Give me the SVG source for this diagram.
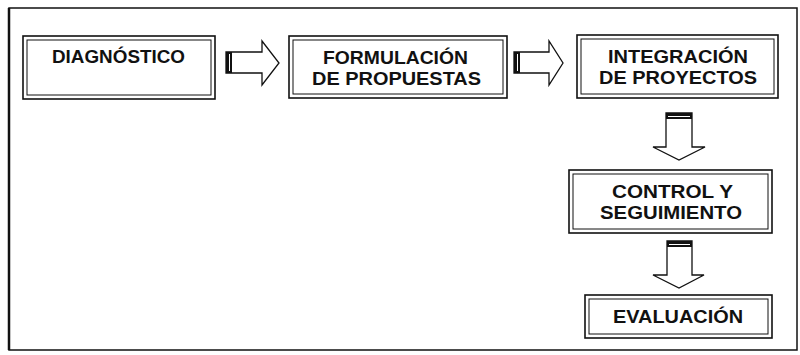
<svg xmlns="http://www.w3.org/2000/svg" width="800" height="355" viewBox="0 0 800 355">
  <style>
    .outer { fill: #ffffff; stroke: #111; stroke-width: 1.6; }
    .inner { fill: none; stroke: #111; stroke-width: 1; }
    .lbl { font-family: "Liberation Sans", Arial, sans-serif; font-weight: bold; font-size: 17.5px; fill: #111; }
    .arrow { fill: #ffffff; stroke: #111; stroke-width: 1.3; stroke-linejoin: miter; }
    .band { fill: #111; }
    .bandline { stroke: #fff; stroke-width: 1; }
    .frame { fill: none; stroke: #111; stroke-width: 1.5; }
  </style>
  <rect width="800" height="355" fill="#ffffff"/>
  <rect class="frame" x="9" y="8" width="788" height="342"/>
  <line x1="9" y1="8" x2="9" y2="350" stroke="#111" stroke-width="2.5"/>

  <g id="connectors">
    <g id="arrow-1">
      <polygon class="arrow" points="226,52 262,52 262,41 279,63 262,85 262,73 226,73"/>
      <rect class="band" x="226" y="52" width="6" height="21"/>
      <line class="bandline" x1="229.5" y1="54" x2="229.5" y2="71"/>
    </g>
    <g id="arrow-2">
      <polygon class="arrow" points="514,52 549,52 549,41 563,63 549,85 549,73 514,73"/>
      <rect class="band" x="514" y="52" width="6" height="21"/>
      <line class="bandline" x1="517.5" y1="54" x2="517.5" y2="71"/>
    </g>
    <g id="arrow-3">
      <polygon class="arrow" points="666,113 692,113 692,147 705,147 679,160 653,147 666,147"/>
      <rect class="band" x="666" y="113" width="26" height="6"/>
      <line class="bandline" x1="668" y1="116.5" x2="690" y2="116.5"/>
    </g>
    <g id="arrow-4">
      <polygon class="arrow" points="667,241 692,241 692,275 704,275 679,288 653,275 667,275"/>
      <rect class="band" x="667" y="241" width="25" height="6"/>
      <line class="bandline" x1="669" y1="244.5" x2="690" y2="244.5"/>
    </g>
  </g>

  <g id="node-diagnostico">
    <rect class="outer" x="23" y="36" width="192" height="63"/>
    <rect class="inner" x="27" y="40" width="184" height="55"/>
    <text class="lbl" x="52" y="63" textLength="133" lengthAdjust="spacingAndGlyphs">DIAGNÓSTICO</text>
  </g>

  <g id="node-formulacion">
    <rect class="outer" x="289" y="36" width="218" height="62"/>
    <rect class="inner" x="293" y="40" width="210" height="54"/>
    <text class="lbl" x="323" y="64" textLength="145" lengthAdjust="spacingAndGlyphs">FORMULACIÓN</text>
    <text class="lbl" x="312" y="85" textLength="169" lengthAdjust="spacingAndGlyphs">DE PROPUESTAS</text>
  </g>

  <g id="node-integracion">
    <rect class="outer" x="577" y="35" width="201" height="63"/>
    <rect class="inner" x="581" y="39" width="193" height="55"/>
    <text class="lbl" x="608" y="63" textLength="140" lengthAdjust="spacingAndGlyphs">INTEGRACIÓN</text>
    <text class="lbl" x="599" y="84" textLength="158" lengthAdjust="spacingAndGlyphs">DE PROYECTOS</text>
  </g>

  <g id="node-control">
    <rect class="outer" x="569" y="170" width="203" height="63"/>
    <rect class="inner" x="573" y="174" width="195" height="55"/>
    <text class="lbl" x="612" y="198" textLength="121" lengthAdjust="spacingAndGlyphs">CONTROL Y</text>
    <text class="lbl" x="600" y="219" textLength="142" lengthAdjust="spacingAndGlyphs">SEGUIMIENTO</text>
  </g>

  <g id="node-evaluacion">
    <rect class="outer" x="585" y="295" width="187" height="43"/>
    <rect class="inner" x="589" y="299" width="179" height="35"/>
    <text class="lbl" x="613" y="323" textLength="130" lengthAdjust="spacingAndGlyphs">EVALUACIÓN</text>
  </g>
</svg>
